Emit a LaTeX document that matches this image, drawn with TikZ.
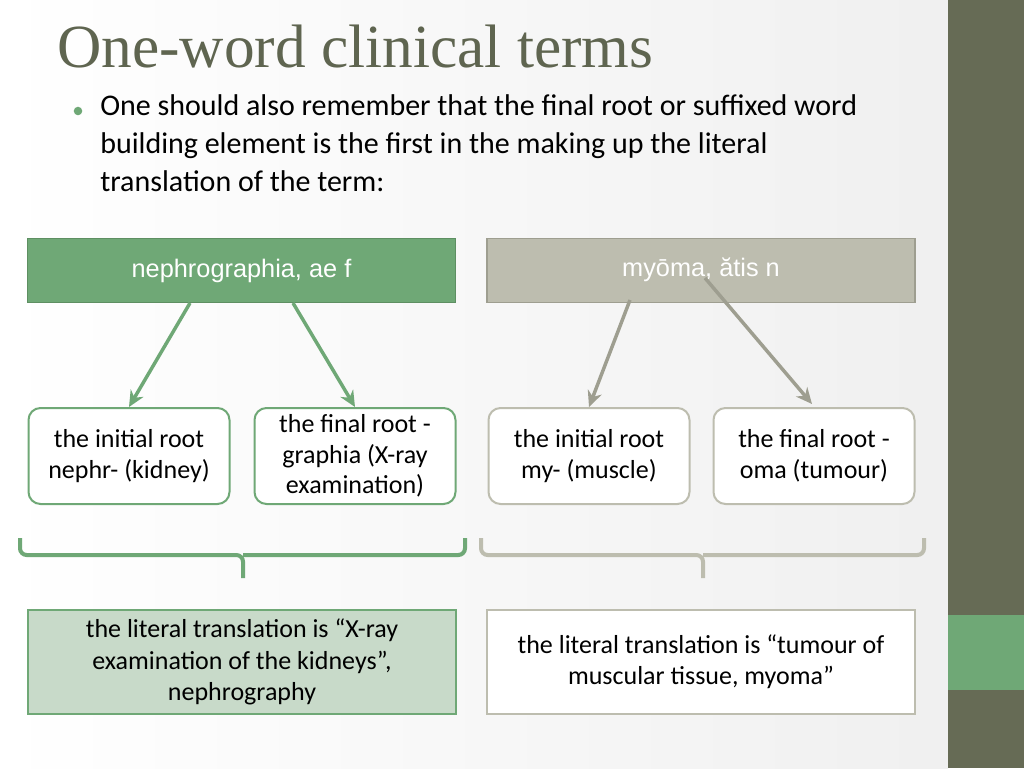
\documentclass[tikz,border=0pt]{standalone}
\usepackage{fontspec}
\setmainfont{Carlito}
\newfontfamily\arialfont{Liberation Sans}
\newfontfamily\titlefont{Liberation Serif}
\usetikzlibrary{arrows.meta}
\definecolor{leafgreen}{HTML}{6FA876}
\definecolor{leafdark}{HTML}{5E8F62}
\definecolor{stonegrey}{HTML}{BDBDAF}
\definecolor{stonedark}{HTML}{9E9E90}
\definecolor{olivebar}{HTML}{666B55}
\definecolor{titlecol}{HTML}{5F6550}
\definecolor{palegreen}{HTML}{C8DAC9}
\newlength{\ux}
\setlength{\ux}{0.75pt}
\tikzset{
    headbox/.style={draw, line width=1.2pt, minimum width=428\ux, minimum height=64\ux, text=white, font=\arialfont\fontsize{19}{22}\selectfont},
    rootbox/.style={draw, line width=1.5pt, rounded corners=9pt, fill=white, minimum width=201\ux, minimum height=96\ux, align=center, font=\fontsize{19.5}{23}\selectfont},
    sumbox/.style={draw, line width=1pt, minimum width=428\ux, minimum height=104\ux, align=center, font=\fontsize{19.5}{23.5}\selectfont},
    rootarrow/.style={line width=2.6pt, -{Stealth[length=12pt,width=11pt]}},
    bracket/.style={line width=3pt, rounded corners=5pt}
}
\begin{document}
\begin{tikzpicture}[x=0.75pt,y=-0.75pt]
    \useasboundingbox (0,0) rectangle (1024,768);
    \shade[left color=white, right color=black!6] (0,0) rectangle (948,768);
    \fill[olivebar] (948,0) rectangle (1024,768);
    \fill[leafgreen] (948,615) rectangle (1024,690);
    % title and bullet
    \node[anchor=base west, inner sep=0pt, text=titlecol, font=\titlefont\fontsize{46}{50}\selectfont] (title) at (57,67) {One-word clinical terms};
    \fill[leafgreen] (78,111) circle (3.2pt);
    \node[anchor=north west, align=left, inner sep=0pt, font=\fontsize{22.5}{28.5}\selectfont] (intro) at (100,94)
        {One should also remember that the final root or suffixed word\\building element is the first in the making up the literal\\translation of the term:};
    % heads
    \node[headbox, fill=leafgreen, draw=leafdark] (nephro) at (241.5,270.5) {nephrographia, ae f};
    \node[headbox, fill=stonegrey, draw=stonedark] (myoma) at (701,270.5) {};
    \node[text=white, font=\arialfont\fontsize{19}{22}\selectfont] (mlabel) at (701,270) {myōma, ătis n};
    % roots
    \node[rootbox, draw=leafgreen] (nroot) at (129,456) {the initial root\\nephr- (kidney)};
    \node[rootbox, draw=leafgreen] (nfinal) at (355,456) {the final root -\\graphia (X-ray\\examination)};
    \node[rootbox, draw=stonegrey] (mroot) at (589,456) {the initial root\\my- (muscle)};
    \node[rootbox, draw=stonegrey] (mfinal) at (814,456) {the final root -\\oma (tumour)};
    % arrows
    \coordinate (n1) at (190,303);
    \coordinate (n2) at (293,303);
    \coordinate (m1) at (630,300);
    \coordinate (m2) at (705,278);
    \draw[rootarrow, leafgreen] (n1) -- (nroot.north);
    \draw[rootarrow, leafgreen] (n2) -- (nfinal.north);
    \draw[rootarrow, stonedark] (m1) -- (mroot.north);
    \draw[rootarrow, stonedark] (m2) -- (812,404);
    % brackets
    \draw[bracket, leafgreen] (20,538) -- (20,555) -- (243,555) -- (243,578);
    \draw[bracket, leafgreen] (465,538) -- (465,555) -- (243,555);
    \draw[bracket, stonegrey] (481,538) -- (481,555) -- (703,555) -- (703,578);
    \draw[bracket, stonegrey] (924,538) -- (924,555) -- (703,555);
    % summaries
    \node[sumbox, fill=palegreen, draw=leafgreen] (nsum) at (242,662) {the literal translation is “X-ray\\examination of the kidneys”,\\nephrography};
    \node[sumbox, fill=white, draw=stonegrey] (msum) at (701,662) {the literal translation is “tumour of\\muscular tissue, myoma”};
\end{tikzpicture}
\end{document}
